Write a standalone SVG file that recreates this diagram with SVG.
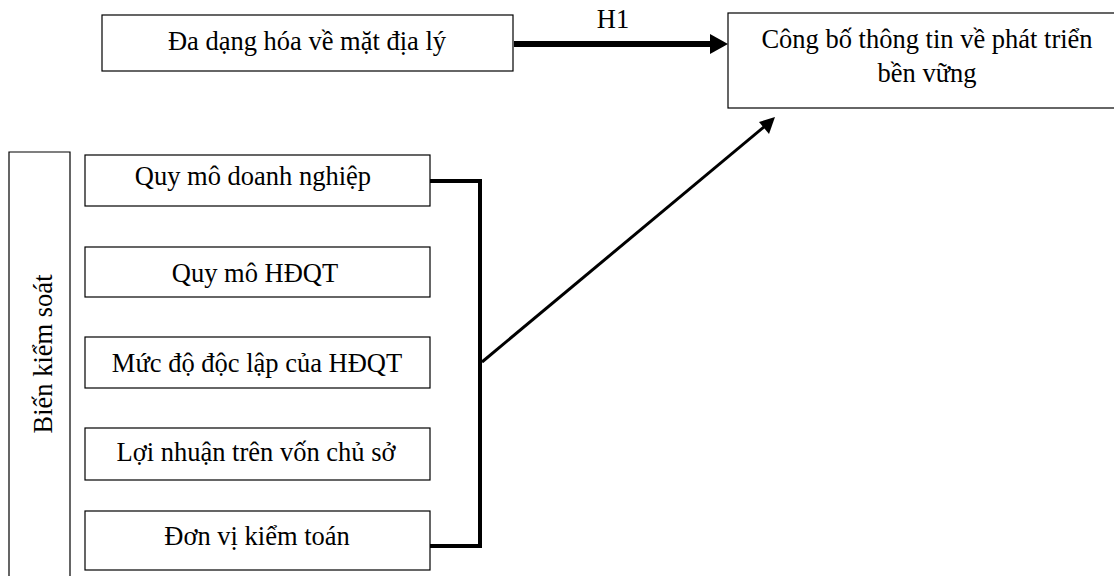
<svg xmlns="http://www.w3.org/2000/svg" width="1114" height="576" viewBox="0 0 1114 576">
<style>
.box{fill:#fff;stroke:#000;stroke-width:1.2}
.t{font-family:"Liberation Serif","Times New Roman",serif;font-size:26.5px;fill:#000;text-anchor:middle}
.conn{fill:none;stroke:#000}
</style>
<rect width="1114" height="576" fill="#fff"/>
<g id="node-dadang">
<rect class="box" x="102" y="15" width="411" height="56"/>
<text class="t" x="307" y="50">Đa dạng hóa về mặt địa lý</text>
</g>
<g id="node-congbo">
<rect class="box" x="728" y="13" width="420" height="95"/>
<text class="t" x="927" y="48">Công bố thông tin về phát triển</text>
<text class="t" x="927" y="82">bền vững</text>
</g>
<g id="node-bienkiemsoat">
<path class="box" d="M9,580 V152 H70 V580"/>
<text class="t" transform="translate(52,354) rotate(-90)">Biến kiểm soát</text>
</g>
<g id="node-quymodn">
<rect class="box" x="85" y="155" width="345" height="51"/>
<text class="t" x="253" y="185">Quy mô doanh nghiệp</text>
</g>
<g id="node-quymohdqt">
<rect class="box" x="85" y="247" width="345" height="50"/>
<text class="t" x="255" y="282">Quy mô HĐQT</text>
</g>
<g id="node-mucdo">
<rect class="box" x="85" y="337" width="345" height="51"/>
<text class="t" x="257" y="372">Mức độ độc lập của HĐQT</text>
</g>
<g id="node-loinhuan">
<rect class="box" x="85" y="428" width="345" height="52"/>
<text class="t" x="256" y="461">Lợi nhuận trên vốn chủ sở</text>
</g>
<g id="node-donvi">
<rect class="box" x="85" y="511" width="345" height="59"/>
<text class="t" x="257" y="545">Đơn vị kiểm toán</text>
</g>
<g id="connectors">
<line class="conn" x1="514" y1="44" x2="712" y2="44" stroke-width="6"/>
<polygon points="710,34 728,44 710,54" fill="#000"/>
<text class="t" x="613" y="28">H1</text>
<path class="conn" d="M430,181 H480 V546 H430" stroke-width="4"/>
<line class="conn" x1="482" y1="362" x2="765" y2="126" stroke-width="3"/>
<polygon points="775,117 769,134 759,122" fill="#000"/>
</g>
</svg>
